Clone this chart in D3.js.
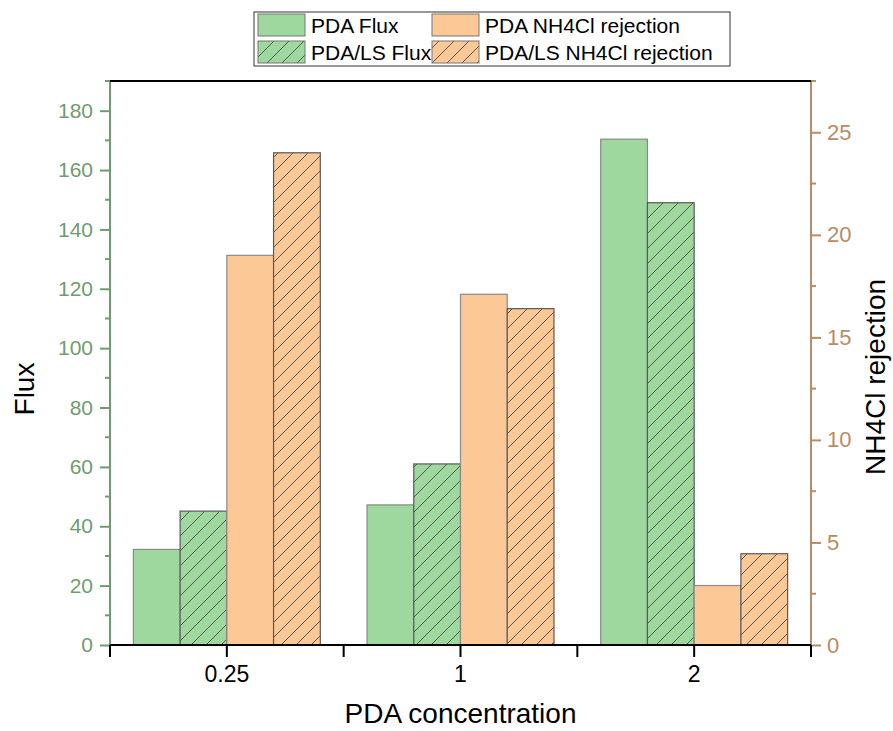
<!DOCTYPE html>
<html>
<head>
<meta charset="utf-8">
<script src="https://cdn.jsdelivr.net/npm/d3@7"></script>
<style>
  body { margin: 0; background: #fff; }
  text { font-family: "Liberation Sans", Arial, sans-serif; }
</style>
</head>
<body>
<div id="plot"></div>
<script>
// data
var concentrations = ['0.25', '1', '2'];
var pdaFlux = [32.2, 47.2, 170.4];
var pdaLsFlux = [45.1, 61, 149];
var pdaRejection = [19.0, 17.1, 2.9];
var pdaLsRejection = [24.0, 16.4, 4.45];
var leftTicks = [0, 20, 40, 60, 80, 100, 120, 140, 160, 180];
var rightTicks = [0, 5, 10, 15, 20, 25];

var series = [
  {name: 'PDA Flux', values: pdaFlux, axis: 'left', fill: '#9fd89e', hatch: false},
  {name: 'PDA/LS Flux', values: pdaLsFlux, axis: 'left', fill: '#9fd89e', hatch: true},
  {name: 'PDA NH4Cl rejection', values: pdaRejection, axis: 'right', fill: '#fcc896', hatch: false},
  {name: 'PDA/LS NH4Cl rejection', values: pdaLsRejection, axis: 'right', fill: '#fcc896', hatch: true}
];

var W = 893, H = 731;
var margin = {t:81, r:82, b:86, l:110};
var width = W - margin.l - margin.r,
	height = H - margin.t - margin.b;

var greenAxis = '#6f9c6f', brownAxis = '#b88c64';
var fontFam = '"Liberation Sans", Arial, sans-serif';

var svg = d3.select('#plot')
	.append('svg')
	.attr('width', W)
	.attr('height', H);

// hatch patterns
var defs = svg.append('defs');
['#9fd89e', '#fcc896'].forEach(function(c, i){
	var p = defs.append('pattern')
		.attr('id', 'hatch' + i)
		.attr('patternUnits', 'userSpaceOnUse')
		.attr('width', 15)
		.attr('height', 15);
	p.append('rect').attr('width', 15).attr('height', 15).attr('fill', c);
	p.append('path')
		.attr('d', 'M0,15 L15,0 M-4,4 L4,-4 M11,19 L19,11')
		.attr('stroke', '#555')
		.attr('stroke-width', 1);
});

function fillOf(s){
	if (!s.hatch) return s.fill;
	return s.fill === '#9fd89e' ? 'url(#hatch0)' : 'url(#hatch1)';
}

var plot = svg.append('g')
	.attr('transform', 'translate(' + margin.l + ',' + margin.t + ')');

var x = d3.scaleBand().domain(concentrations).range([0, width]);
var xInner = d3.scaleBand().domain(series.map(function(s){ return s.name; }))
	.range([0.1 * x.bandwidth(), 0.9 * x.bandwidth()]);
var yL = d3.scaleLinear().domain([0, 190]).range([height, 0]);
var yR = d3.scaleLinear().domain([0, 27.5]).range([height, 0]);

// bars
series.forEach(function(s){
	var yS = s.axis === 'left' ? yL : yR;
	plot.append('g').selectAll('rect')
		.data(s.values)
		.enter()
		.append('rect')
		.attr('x', function(d, i){ return x(concentrations[i]) + xInner(s.name); })
		.attr('y', function(d){ return yS(d); })
		.attr('width', xInner.bandwidth())
		.attr('height', function(d){ return height - yS(d); })
		.attr('fill', fillOf(s))
		.attr('stroke', s.hatch ? '#5a5a5a' : '#8a8a8a')
		.attr('stroke-width', 1.2);
});

// left axis
var gL = plot.append('g')
	.call(d3.axisLeft(yL).tickValues(leftTicks).tickSize(10).tickPadding(7));
gL.selectAll('line, path').attr('stroke', greenAxis).attr('stroke-width', 2);
gL.select('.domain').attr('d', 'M0,0V' + height);
gL.selectAll('text').attr('fill', greenAxis).attr('font-size', 21)
	.style('font-family', fontFam);
plot.append('g').selectAll('line')
	.data(d3.range(10, 200, 20))
	.enter().append('line')
	.attr('x1', -5).attr('x2', 0)
	.attr('y1', function(d){ return yL(d); })
	.attr('y2', function(d){ return yL(d); })
	.attr('stroke', greenAxis).attr('stroke-width', 2);

// right axis
var gR = plot.append('g')
	.attr('transform', 'translate(' + width + ',0)')
	.call(d3.axisRight(yR).tickValues(rightTicks).tickSize(10).tickPadding(6));
gR.selectAll('line, path').attr('stroke', brownAxis).attr('stroke-width', 2);
gR.select('.domain').attr('d', 'M0,0V' + height);
gR.selectAll('text').attr('fill', brownAxis).attr('font-size', 22)
	.style('font-family', fontFam);
gR.append('g').selectAll('line')
	.data(d3.range(2.5, 28, 5))
	.enter().append('line')
	.attr('x1', 0).attr('x2', 5)
	.attr('y1', function(d){ return yR(d); })
	.attr('y2', function(d){ return yR(d); })
	.attr('stroke', brownAxis).attr('stroke-width', 2);

// top frame
plot.append('line')
	.attr('x1', 0).attr('x2', width)
	.attr('y1', 0).attr('y2', 0)
	.attr('stroke', '#000').attr('stroke-width', 2);

// bottom axis
var gX = plot.append('g')
	.attr('transform', 'translate(0,' + height + ')')
	.call(d3.axisBottom(x).tickSize(12).tickPadding(9));
gX.selectAll('line, path').attr('stroke', '#000').attr('stroke-width', 2);
gX.select('.domain').attr('d', 'M0,0H' + width);
gX.selectAll('text').attr('fill', '#000').attr('font-size', 23)
	.style('font-family', fontFam);
gX.append('g').selectAll('line')
	.data(d3.range(0, concentrations.length + 1))
	.enter().append('line')
	.attr('x1', function(i){ return i * x.step(); })
	.attr('x2', function(i){ return i * x.step(); })
	.attr('y1', 0).attr('y2', 12)
	.attr('stroke', '#000').attr('stroke-width', 2);

// axis titles
svg.append('text')
	.attr('transform', 'translate(34,389) rotate(-90)')
	.attr('text-anchor', 'middle')
	.attr('font-size', 28)
	.text('Flux');
svg.append('text')
	.attr('transform', 'translate(885,377) rotate(-90)')
	.attr('text-anchor', 'middle')
	.attr('font-size', 28)
	.text('NH4Cl rejection');
svg.append('text')
	.attr('x', margin.l + width / 2)
	.attr('y', 723)
	.attr('text-anchor', 'middle')
	.attr('font-size', 28)
	.text('PDA concentration');

// legend
var legend = svg.append('g');
legend.append('rect')
	.attr('x', 254).attr('y', 12)
	.attr('width', 476).attr('height', 54)
	.attr('fill', '#fff').attr('stroke', '#333').attr('stroke-width', 1);
var legPos = [[258, 14], [258, 41], [432, 14], [432, 41]];
series.forEach(function(s, i){
	var p = legPos[i];
	legend.append('rect')
		.attr('x', p[0]).attr('y', p[1])
		.attr('width', 47).attr('height', 22)
		.attr('fill', fillOf(s))
		.attr('stroke', '#777').attr('stroke-width', 1);
	legend.append('text')
		.attr('x', p[0] + 53).attr('y', p[1] + 19)
		.attr('font-size', 21)
		.text(s.name);
});
</script>
</body>
</html>
